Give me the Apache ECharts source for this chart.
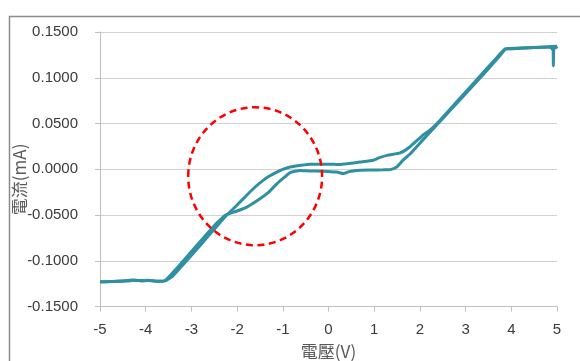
<!DOCTYPE html>
<html>
<head>
<meta charset="utf-8">
<script src="https://cdn.jsdelivr.net/npm/echarts@6/dist/echarts.min.js"></script>
<style>
  html, body { margin: 0; padding: 0; background: #ffffff; }
  #chart { width: 580px; height: 361px; }
</style>
</head>
<body>
<div id="chart"></div>
<script>
// I-V sweep: voltage (V) and current (mA)
const forwardVoltage = [-5.0, -4.7, -4.4, -4.25, -4.1, -3.95, -3.8, -3.62, -3.55, -3.3, -3.0, -2.7, -2.45, -2.25, -2.0, -1.79, -1.5, -1.3, -1.13, -0.95, -0.84, -0.62, -0.4, -0.11, 0.18, 0.33, 0.45, 0.62, 0.9, 1.2, 1.35, 1.49, 1.62, 1.79, 2.08, 2.35, 2.7, 3.1, 3.5, 3.75, 3.88, 4.2, 4.5, 4.8, 5.0];
const forwardCurrent = [-0.1228, -0.1226, -0.1220, -0.1212, -0.1218, -0.1213, -0.1219, -0.1223, -0.1205, -0.1070, -0.0898, -0.0728, -0.0590, -0.0498, -0.0455, -0.0412, -0.0320, -0.0245, -0.0158, -0.0080, -0.0035, -0.0013, -0.0018, -0.0020, -0.0030, -0.0046, -0.0025, -0.0012, -0.0008, -0.0005, -0.0003, 0.0025, 0.0095, 0.0170, 0.0330, 0.0475, 0.0665, 0.0880, 0.1100, 0.1240, 0.1312, 0.1322, 0.1330, 0.1338, 0.1345];

const reverseVoltage = [5.0, 4.98, 4.93, 4.92, 4.915, 4.85, 4.5, 4.2, 3.95, 3.86, 3.6, 3.2, 2.8, 2.4, 2.2, 2.08, 1.79, 1.57, 1.3, 1.1, 0.98, 0.69, 0.4, 0.25, 0.1, -0.2, -0.4, -0.6, -0.84, -1.0, -1.13, -1.3, -1.43, -1.6, -1.79, -2.0, -2.23, -2.52, -2.8, -3.1, -3.4, -3.56, -3.75, -3.95, -4.15, -4.3, -4.55, -4.8, -5.0];
const reverseCurrent = [0.1345, 0.1330, 0.1318, 0.1130, 0.1300, 0.1335, 0.1332, 0.1326, 0.1320, 0.1315, 0.1175, 0.0955, 0.0735, 0.0515, 0.0420, 0.0380, 0.0250, 0.0180, 0.0155, 0.0125, 0.0100, 0.0080, 0.0060, 0.0052, 0.0055, 0.0055, 0.0057, 0.0045, 0.0025, 0.0000, -0.0030, -0.0075, -0.0120, -0.0190, -0.0283, -0.0390, -0.0502, -0.0665, -0.0825, -0.0995, -0.1160, -0.1215, -0.1222, -0.1210, -0.1215, -0.1208, -0.1220, -0.1225, -0.1230];

// axis ranges
const voltageTicks = [-5, -4, -3, -2, -1, 0, 1, 2, 3, 4, 5];
const currentTicks = [-0.15, -0.10, -0.05, 0, 0.05, 0.10, 0.15];

// highlighted region (dashed ellipse), in data units
const markCenter = [-1.605, -0.0075];
const markRadius = [1.465, 0.0753];

const pairs = (xs, ys) => xs.map((x, i) => [x, ys[i]]);

const LINE_COLOR = '#3090a2';
const LABEL_COLOR = '#3a3a3a';
const NAME_COLOR = '#595959';
const AXIS_COLOR = '#bfbfbf';

const chart = echarts.init(document.getElementById('chart'), null, { renderer: 'canvas' });

const fmt = v => (Math.abs(v) < 1e-9 ? 0 : v).toFixed(4);

chart.setOption({
  animation: false,
  backgroundColor: '#ffffff',
  grid: { left: 100, right: 23, top: 32, bottom: 54.3, containLabel: false, outerBoundsMode: 'none' },
  xAxis: {
    type: 'value',
    min: voltageTicks[0],
    max: voltageTicks[voltageTicks.length - 1],
    interval: 1,
    name: '電壓(V)',
    nameLocation: 'middle',
    nameGap: 36,
    nameMoveOverlap: false,
    nameTextStyle: { color: NAME_COLOR, fontSize: 17, fontFamily: 'Noto Sans CJK TC, sans-serif' },
    axisLine: { onZero: false, lineStyle: { color: AXIS_COLOR, width: 1 } },
    axisTick: { show: true, length: 5, lineStyle: { color: AXIS_COLOR } },
    axisLabel: { color: LABEL_COLOR, fontSize: 15, fontFamily: 'Liberation Sans, Arial, sans-serif', margin: 16 },
    splitLine: { show: false }
  },
  yAxis: {
    type: 'value',
    min: currentTicks[0],
    max: currentTicks[currentTicks.length - 1],
    interval: 0.05,
    name: '電流(mA)',
    nameLocation: 'middle',
    nameGap: 72,
    nameMoveOverlap: false,
    nameTextStyle: { color: NAME_COLOR, fontSize: 17, fontFamily: 'Noto Sans CJK TC, sans-serif', padding: [0, 20, 0, 0] },
    axisLine: { show: true, onZero: false, lineStyle: { color: AXIS_COLOR, width: 1 } },
    axisTick: { show: true, length: 5, lineStyle: { color: AXIS_COLOR } },
    axisLabel: { color: LABEL_COLOR, fontSize: 15, fontFamily: 'Liberation Sans, Arial, sans-serif', margin: 22, formatter: fmt },
    splitLine: { show: true, lineStyle: { color: '#d2d2d2', width: 1.2 } }
  },
  series: [
    {
      name: '順向掃描',
      type: 'line',
      data: pairs(forwardVoltage, forwardCurrent),
      showSymbol: false,
      smooth: 0.15,
      lineStyle: { color: LINE_COLOR, width: 3 },
      z: 3
    },
    {
      name: '逆向掃描',
      type: 'line',
      data: pairs(reverseVoltage, reverseCurrent),
      showSymbol: false,
      smooth: 0.15,
      lineStyle: { color: LINE_COLOR, width: 3 },
      z: 3
    }
  ]
});

function drawOverlay() {
  const c = chart.convertToPixel({ gridIndex: 0 }, markCenter);
  const ex = chart.convertToPixel({ gridIndex: 0 }, [markCenter[0] + markRadius[0], markCenter[1] + markRadius[1]]);
  chart.setOption({
    graphic: [
      {
        id: 'frame',
        type: 'rect',
        left: 7, top: 14,
        shape: { x: 0, y: 0, width: 700, height: 500 },
        style: { fill: 'none', stroke: '#8c8c8c', lineWidth: 1.5 },
        silent: true,
        z: 0
      },
      {
        id: 'mark',
        type: 'ellipse',
        shape: { cx: c[0], cy: c[1], rx: Math.abs(ex[0] - c[0]), ry: Math.abs(ex[1] - c[1]) },
        style: { fill: 'none', stroke: '#ff0000', lineWidth: 2.5, lineDash: [7, 4.5] },
        silent: true,
        z: 10
      }
    ]
  });
}
drawOverlay();
</script>
</body>
</html>
